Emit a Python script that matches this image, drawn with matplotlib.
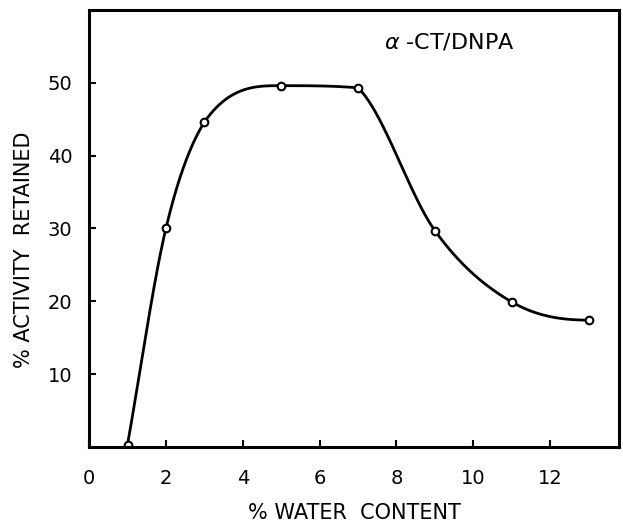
import numpy as np
import matplotlib.pyplot as plt

# data
water = [1, 2, 3, 5, 7, 9, 11, 13]
activity = [0.3, 30, 44.6, 49.6, 49.3, 29.7, 19.9, 17.4]
x_ticks = [0, 2, 4, 6, 8, 10, 12]
y_ticks = [10, 20, 30, 40, 50]

plt.rcParams['font.family'] = ['DejaVu Sans']


def smooth_curve(x, y, n=80):
    # hand-drawn style: cubic Hermite pieces through the measured points,
    # tangents limited on each side separately so the curve never overshoots
    x = np.asarray(x, float)
    y = np.asarray(y, float)
    h = np.diff(x)
    d = np.diff(y) / h
    xs_all, ys_all = [], []
    for k in range(len(h)):
        # tangent at left end of the piece
        if k == 0:
            m0 = d[0]
        elif d[k - 1] * d[k] <= 0:
            m0 = 0.0
        else:
            m0 = 0.5 * (d[k - 1] + d[k])
        # tangent at right end of the piece
        if k == len(h) - 1:
            m1 = 0.0
        elif d[k] * d[k + 1] <= 0:
            m1 = 0.0
        else:
            m1 = 0.5 * (d[k] + d[k + 1])
        if abs(m0) > 3 * abs(d[k]):
            m0 = 3 * d[k]
        if abs(m1) > 3 * abs(d[k]):
            m1 = 3 * d[k]
        t = np.linspace(0, 1, n)
        h00 = 2 * t**3 - 3 * t**2 + 1
        h10 = t**3 - 2 * t**2 + t
        h01 = -2 * t**3 + 3 * t**2
        h11 = t**3 - t**2
        xs_all.append(x[k] + t * h[k])
        ys_all.append(h00 * y[k] + h10 * h[k] * m0 + h01 * y[k + 1] + h11 * h[k] * m1)
    return np.concatenate(xs_all), np.concatenate(ys_all)


fig = plt.figure(figsize=(6.23, 5.22), dpi=100)
ax = fig.add_axes([0.143, 0.144, 0.851, 0.837])

cx, cy = smooth_curve(water, activity)
ax.plot(cx, cy, color='black', linewidth=2.0)
ax.plot(water, activity, linestyle='none', marker='o', markersize=5.5,
        markerfacecolor='white', markeredgecolor='black', markeredgewidth=1.5)

ax.set_xlim(0, 13.8)
ax.set_ylim(0, 60)
ax.set_xticks(x_ticks)
ax.set_yticks(y_ticks)
ax.tick_params(direction='in', length=5, width=1.5, labelsize=14)
ax.tick_params(axis='x', pad=16)
ax.tick_params(axis='y', pad=12)
for side in ax.spines.values():
    side.set_linewidth(2.2)

ax.set_xlabel('% WATER  CONTENT', fontsize=15)
ax.set_ylabel('% ACTIVITY  RETAINED', fontsize=15)
ax.xaxis.set_label_coords(0.5, -0.128)
ax.yaxis.set_label_coords(-0.103, 0.45)

ax.text(9.37, 55.6, r'$\alpha$ -CT/DNPA', fontsize=16, ha='center', va='center')

fig.savefig('out.png', dpi=100)
